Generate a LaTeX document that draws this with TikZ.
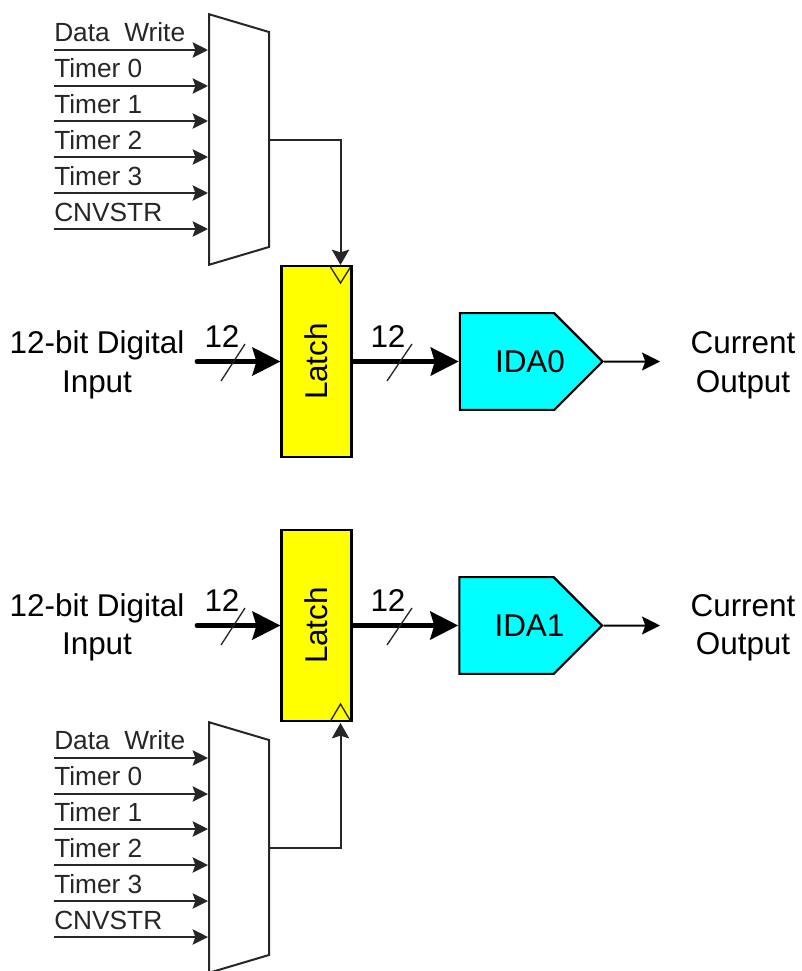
\documentclass[tikz,border=0pt]{standalone}
\usepackage{fontspec}
\setmainfont{Liberation Sans}
\usetikzlibrary{
  arrows.meta,
  shapes.geometric,
  shapes.symbols,
  chains,
  scopes
}
\definecolor{wire}{HTML}{262626}
\definecolor{latchfill}{RGB}{255,255,0}
\definecolor{dacfill}{RGB}{0,255,255}
\begin{document}
\begin{tikzpicture}[
      x=0.75pt,y=-0.75pt,
      latch/.style={
         rectangle,
         minimum width=52.5pt,
         minimum height=143.5pt,
         inner sep=0pt,
         line width=1.6pt,
         draw=black,
         fill=latchfill,
         font=\fontsize{23.6}{26}\selectfont
      },
      dac/.style={
         signal,
         signal to=east,
         signal from=nowhere,
         signal pointer angle=90,
         minimum width=107pt,
         minimum height=72.5pt,
         inner sep=0pt,
         line width=1.6pt,
         draw=black,
         fill=dacfill,
         font=\fontsize{23.6}{26}\selectfont
      },
      mux/.style={
         trapezium,
         trapezium stretches=true,
         trapezium angle=85,
         shape border rotate=270,
         minimum width=188pt,
         minimum height=45pt,
         inner sep=0pt,
         line width=1.5pt,
         draw=wire,
         fill=white
      },
      small label/.style={
         anchor=base west,
         inner sep=0pt,
         text=wire,
         font=\fontsize{19.7}{22}\selectfont
      },
      big label/.style={
         anchor=base,
         inner sep=0pt,
         text=black,
         font=\fontsize{23.6}{26}\selectfont
      },
      tip/.style={
         -{Stealth[length=11.5pt,width=11.5pt,inset=2pt]},
         line width=1.5pt,
         draw=wire
      },
      clock tip/.style={
         -{Stealth[length=11.5pt,width=13pt,inset=2pt]},
         line width=1.5pt,
         draw=wire
      },
      out tip/.style={
         -{Stealth[length=13.5pt,width=13.5pt,inset=2.5pt]},
         line width=1.5pt,
         draw=black
      },
      bus tip/.style={
         -{Stealth[length=21pt,width=21pt,inset=3pt]},
         line width=3.6pt,
         line cap=round,
         draw=black
      },
      slash/.style={line width=1pt,draw=wire},
      clock/.style={line width=1pt,draw=black!85!latchfill}
    ]
    \useasboundingbox (0,0) rectangle (801,971);

    \node (mux0) [mux] at (239,139.5) {\phantom{x}};
    \node (mux1) [mux] at (239,847.5) {\phantom{x}};
    \node (latch0) [latch] at (316.5,361.5) {\rotatebox{90}{Latch}};
    \node (latch1) [latch] at (316.5,625.5) {\rotatebox{90}{Latch}};
    \node (ida0) [dac] at (507,361.5) {\makebox[0pt]{\hspace{34.5pt}IDA0}};
    \node (ida1) [dac] at (506.5,625.5) {\makebox[0pt]{\hspace{34.5pt}IDA1}};

    \coordinate (bus0) at (197,361.5);
    \coordinate (bus1) at (197,625.5);
    \coordinate (out0) at (660,361.5);
    \coordinate (out1) at (660,625.5);
    \coordinate (clk0) at (340.5,265);
    \coordinate (clk1) at (340.5,723);

    % select inputs, upper mux
    \node (t00) [small label] at (54,41) {Data\ \ Write};
    \node (t01) [small label] at (54,77) {Timer 0};
    \node (t02) [small label] at (54,113) {Timer 1};
    \node (t03) [small label] at (54,149) {Timer 2};
    \node (t04) [small label] at (54,185) {Timer 3};
    \node (t05) [small label] at (54,221) {CNVSTR};
    \coordinate (i00) at (54,50);
    \coordinate (i01) at (54,86);
    \coordinate (i02) at (54,121);
    \coordinate (i03) at (54,157);
    \coordinate (i04) at (54,193);
    \coordinate (i05) at (54,229);
    \draw[tip] (i00) -- (mux0.west |- i00);
    \draw[tip] (i01) -- (mux0.west |- i01);
    \draw[tip] (i02) -- (mux0.west |- i02);
    \draw[tip] (i03) -- (mux0.west |- i03);
    \draw[tip] (i04) -- (mux0.west |- i04);
    \draw[tip] (i05) -- (mux0.west |- i05);

    % select inputs, lower mux
    \node (t10) [small label] at (54,749) {Data\ \ Write};
    \node (t11) [small label] at (54,785) {Timer 0};
    \node (t12) [small label] at (54,821) {Timer 1};
    \node (t13) [small label] at (54,857) {Timer 2};
    \node (t14) [small label] at (54,893) {Timer 3};
    \node (t15) [small label] at (54,929) {CNVSTR};
    \coordinate (i10) at (54,758);
    \coordinate (i11) at (54,794);
    \coordinate (i12) at (54,829);
    \coordinate (i13) at (54,865);
    \coordinate (i14) at (54,901);
    \coordinate (i15) at (54,937);
    \draw[tip] (i10) -- (mux1.west |- i10);
    \draw[tip] (i11) -- (mux1.west |- i11);
    \draw[tip] (i12) -- (mux1.west |- i12);
    \draw[tip] (i13) -- (mux1.west |- i13);
    \draw[tip] (i14) -- (mux1.west |- i14);
    \draw[tip] (i15) -- (mux1.west |- i15);

    \draw[clock tip] (mux0.east) -| (clk0);
    \draw[clock tip] (mux1.east) -| (clk1);

    { [start chain]
       \chainin (bus0);
       \chainin (latch0) [join=by bus tip];
    }
    { [start chain]
       \chainin (latch0);
       \chainin (ida0) [join=by bus tip];
    }
    { [start chain]
       \chainin (ida0);
       \chainin (out0) [join=by out tip];
    }
    { [start chain]
       \chainin (bus1);
       \chainin (latch1) [join=by bus tip];
    }
    { [start chain]
       \chainin (latch1);
       \chainin (ida1) [join=by bus tip];
    }
    { [start chain]
       \chainin (ida1);
       \chainin (out1) [join=by out tip];
    }

    \draw[clock] (330.5,267) -- (340.5,283) -- (350.5,267);
    \draw[clock] (330.5,721) -- (340.5,704) -- (350.5,721);

    \node (w00) [big label] at (222,347) {12};
    \node (w01) [big label] at (388,347) {12};
    \node (w10) [big label] at (222,611) {12};
    \node (w11) [big label] at (388,611) {12};
    \draw[slash] (221,381) -- (245,344);
    \draw[slash] (387,381) -- (412,344);
    \draw[slash] (221,645) -- (245,608);
    \draw[slash] (387,645) -- (412,608);

    \node (d00) [big label] at (97,353) {12-bit Digital};
    \node (d01) [big label] at (97,392) {Input};
    \node (d10) [big label] at (97,616) {12-bit Digital};
    \node (d11) [big label] at (97,654) {Input};
    \node (c00) [big label] at (743,353) {Current};
    \node (c01) [big label] at (743,392) {Output};
    \node (c10) [big label] at (743,616) {Current};
    \node (c11) [big label] at (743,654) {Output};
\end{tikzpicture}
\end{document}
